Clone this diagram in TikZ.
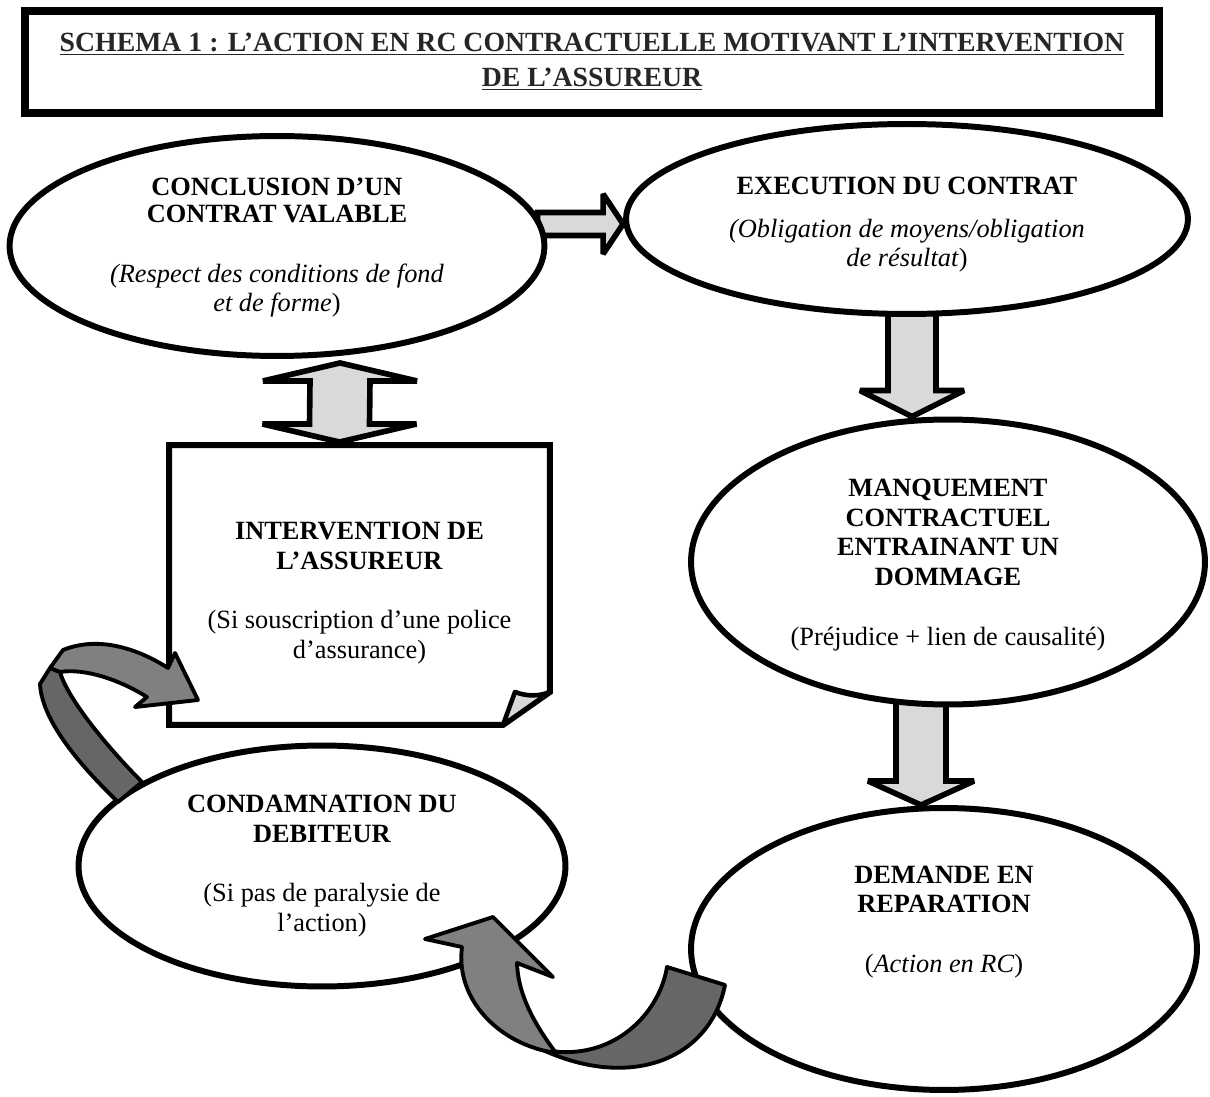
\documentclass[tikz,border=0pt]{standalone}
\usepackage{fontspec}
\setmainfont{Liberation Serif}
\usepackage{tikz}
\usetikzlibrary{shapes.geometric}
\usetikzlibrary{calc}
\usetikzlibrary{backgrounds}
\definecolor{grisclair}{RGB}{217,217,217}
\definecolor{grisruban}{RGB}{128,128,128}
\definecolor{grisfonce}{RGB}{102,102,102}
\definecolor{gristitre}{RGB}{38,38,38}
\tikzset{etape/.style={ellipse, draw, fill=white, line width=3.4pt, inner sep=0pt},
 texte/.style={align=center, font=\fontsize{15}{17}\selectfont},
 fleche/.style={draw, line width=3.2pt, fill=grisclair, miter limit=2},
 ruban/.style={draw, line width=2.2pt, line join=round},
 }

\begin{document}
\begin{tikzpicture}[x=0.02cm,y=-0.02cm]
        \useasboundingbox (0,0) rectangle (1210,1097);
        % titre
        \node[draw, line width=4.5pt, minimum width=22.68cm, minimum height=2.04cm, align=center,
              text=gristitre, font=\fontsize{15.8}{20}\selectfont\bfseries] (titre) at (592,62)
              {\underline{SCHEMA 1 : L’ACTION EN RC CONTRACTUELLE MOTIVANT L’INTERVENTION}\\\underline{DE L’ASSUREUR}};
        % ellipses
        \node[etape, minimum width=10.7cm, minimum height=4.4cm] (concl) at (277,246) {};
        \node[etape, minimum width=11.24cm, minimum height=3.8cm] (exec) at (907,219) {};
        \node[etape, minimum width=10.28cm, minimum height=5.7cm] (manq) at (948,562) {};
        \node[etape, minimum width=10.12cm, minimum height=5.64cm] (demande) at (944,949) {};
        \node[etape, minimum width=9.74cm, minimum height=4.82cm] (condam) at (322,866) {};
        \node[texte] (conclT) at ($(concl)+(0,2)$) {\textbf{CONCLUSION D’UN}\\[-2pt]\textbf{CONTRAT VALABLE}\\[17pt]\textit{(Respect des conditions de fond}\\\textit{et de forme})};
        \node[texte] (execT) at ($(exec)+(0,6)$) {\textbf{EXECUTION DU CONTRAT}\\[7pt]\textit{(Obligation de moyens/obligation}\\\textit{de résultat})};
        \node[texte] (manqT) at ($(manq)+(0,3)$) {\textbf{MANQUEMENT}\\\textbf{CONTRACTUEL}\\\textbf{ENTRAINANT UN}\\\textbf{DOMMAGE}\\[17pt](Préjudice + lien de causalité)};
        \node[texte] (demandeT) at ($(demande)+(0,-27)$) {\textbf{DEMANDE EN}\\\textbf{REPARATION}\\[17pt](\textit{Action en RC})};
        \node[texte] (condamT) at (condam) {\textbf{CONDAMNATION DU}\\\textbf{DEBITEUR}\\[17pt](Si pas de paralysie de\\l’action)};
        % assureur
        \node[minimum width=7.62cm, minimum height=5.6cm, inner sep=0pt, outer sep=0pt] (interv) at (359.5,585) {};
        \node[texte] (intervT) at ($(interv)+(0,8)$) {\textbf{INTERVENTION DE}\\\textbf{L’ASSUREUR}\\[17pt](Si souscription d’une police\\d’assurance)};
        \draw[line width=3.4pt] (interv.north west) -- (interv.north east) -- ($(interv.south east)+(0,-33)$)
              -- ($(interv.south east)+(-47,0)$) -- (interv.south west) -- cycle;
        \draw[line width=2.6pt, fill=grisclair, line join=round] ($(interv.south east)+(-47,0)$) -- ($(interv.south east)+(-35,-33)$)
              .. controls ($(interv.south east)+(-22,-28)$) and ($(interv.south east)+(-10,-29)$) .. ($(interv.south east)+(0,-33)$) -- cycle;
        % fleches
        \coordinate (f0h) at ($(concl.south)+(63,4)$);
        \coordinate (f0b) at ($(interv.north)+(-20,-3)$);
        \coordinate (f1g) at ($(concl.east)+(-10,-22)$);
        \coordinate (f1d) at ($(exec.west)+(0,5)$);
        \coordinate (f2h) at ($(exec.south)+(5,-10)$);
        \coordinate (f2b) at ($(manq.north)+(-36,0)$);
        \coordinate (f3h) at ($(manq.south)+(-27,-10)$);
        \coordinate (f3b) at ($(demande.north)+(-23,0)$);
        \begin{scope}[on background layer]
        \draw[fleche] (f0h) -- ++(77,18) -- ++(-47,0) -- ($(f0b)+(30,-18)$) -- ++(47,0) -- (f0b) -- ++(-77,-18)
              -- ++(47,0) -- ($(f0h)+(-30,18)$) -- ++(-47,0) -- cycle;
        \draw[fleche] ($(f1g)+(0,-11.5)$) -- ($(f1d)+(-20,-11.5)$) -- ++(0,-18.5) -- (f1d) -- ++(-20,30) -- ++(0,-18.5)
              -- ($(f1g)+(0,11.5)$) -- cycle;
        \draw[fleche] ($(f2h)+(-24,0)$) -- ($(f2b)+(-24,-26)$) -- ++(-28,0) -- (f2b) -- ++(52,-26) -- ++(-28,0)
              -- ($(f2h)+(24,0)$) -- cycle;
        \draw[fleche] ($(f3h)+(-25,0)$) -- ($(f3b)+(-25,-24)$) -- ++(-28,0) -- (f3b) -- ++(53,-24) -- ++(-28,0)
              -- ($(f3h)+(25,0)$) -- cycle;
        \end{scope}
        % rubans
        \draw[ruban, fill=grisfonce] (118,802) .. controls (90,775) and (42,725) .. (40,684) -- (50,668) -- (60,672)
              .. controls (68,700) and (110,750) .. (142,782) -- cycle;
        \draw[ruban, fill=grisruban] (50,668) -- (63,650) .. controls (100,635) and (140,650) .. (168,668) -- (175,653)
              -- (198,700) -- (135,707) -- (147,697) .. controls (120,680) and (85,668) .. (60,672) -- cycle;
        \draw[ruban, fill=grisfonce] (725,985) .. controls (710,1060) and (630,1090) .. (543,1050) -- (560,1052)
              .. controls (620,1055) and (660,1010) .. (667,967) -- cycle;
        \draw[ruban, fill=grisruban] (462,947) .. controls (455,1000) and (500,1045) .. (556,1053)
              .. controls (535,1025) and (518,995) .. (517,963) -- (553,977) -- (493,917) -- (425,939) -- cycle;
    \end{tikzpicture}
\end{document}
